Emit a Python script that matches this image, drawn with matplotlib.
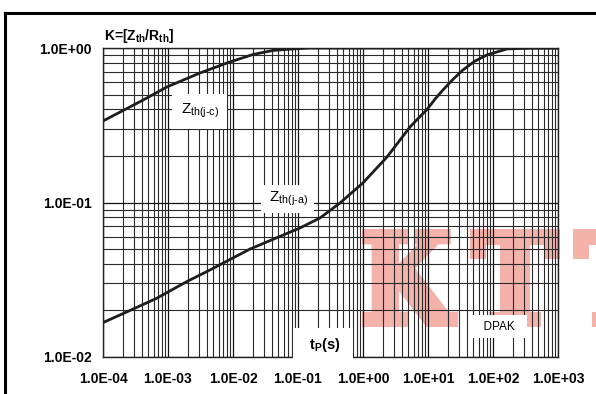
import matplotlib
matplotlib.use("Agg")
import matplotlib.pyplot as plt
from matplotlib.textpath import TextPath
from matplotlib.patches import PathPatch
from matplotlib.font_manager import FontProperties
from matplotlib.transforms import Affine2D, IdentityTransform
from matplotlib.lines import Line2D
from matplotlib.ticker import LogLocator, NullFormatter

plt.rcParams["font.family"] = ["Liberation Sans", "DejaVu Sans"]
plt.rcParams["mathtext.fontset"] = "custom"
plt.rcParams["mathtext.rm"] = "Liberation Sans"
plt.rcParams["mathtext.bf"] = "Liberation Sans:bold"
plt.rcParams["mathtext.it"] = "Liberation Sans:italic"

# ---- du lieu: Zth(j-c) ----
t_jc = [1e-4, 4.12e-4, 9.66e-4, 3.10e-3, 8.09e-3, 2.03e-2, 4.12e-2, 8.37e-2, 0.153, 1e3]
k_jc = [0.337, 0.460, 0.560, 0.689, 0.800, 0.908, 0.964, 0.986, 1.0, 1.0]

# ---- du lieu: Zth(j-a) ----
t_ja = [1e-4, 2.6e-4, 6.7e-4, 1.93e-3, 4.43e-3, 1.83e-2, 0.107, 0.218, 0.443, 1.0,
        2.34, 5.28, 7.2, 9.66, 13.0, 17.0, 25.0, 34.5, 52.0, 80.9, 164, 372, 1e3]
k_ja = [0.0167, 0.0200, 0.0240, 0.0307, 0.0366, 0.0500, 0.0684, 0.0794, 0.0993, 0.134,
        0.197, 0.308, 0.353, 0.400, 0.470, 0.535, 0.635, 0.721, 0.820, 0.902, 0.986, 1.0, 1.0]

x_ticks = [1e-4, 1e-3, 1e-2, 1e-1, 1e0, 1e1, 1e2, 1e3]
x_labels = ["1.0E-04", "1.0E-03", "1.0E-02", "1.0E-01", "1.0E+00", "1.0E+01", "1.0E+02", "1.0E+03"]
y_ticks = [1e-2, 1e-1, 1e0]
y_labels = ["1.0E-02", "1.0E-01", "1.0E+00"]

W, H = 596, 394
fig = plt.figure(figsize=(W / 100, H / 100), dpi=100)
ax = fig.add_axes([103 / W, (H - 357) / H, (558 - 103) / W, (357 - 48) / H])
ax.set_facecolor("none")

ax.set_xscale("log")
ax.set_yscale("log")
ax.set_xlim(1e-4, 1e3)
ax.set_ylim(1e-2, 1e0)

# luoi chinh + luoi phu
ax.xaxis.set_minor_locator(LogLocator(base=10, subs=range(2, 10), numticks=50))
ax.yaxis.set_minor_locator(LogLocator(base=10, subs=range(2, 10), numticks=50))
ax.xaxis.set_minor_formatter(NullFormatter())
ax.yaxis.set_minor_formatter(NullFormatter())
ax.grid(which="major", color="#111111", lw=0.9)
ax.grid(which="minor", color="#2a2a2a", lw=0.8)
ax.set_axisbelow("line")

ax.set_xticks(x_ticks)
ax.set_xticklabels(x_labels)
ax.set_yticks(y_ticks)
ax.set_yticklabels(y_labels)
ax.tick_params(which="both", length=0)
ax.tick_params(axis="x", pad=11, labelsize=10)
ax.tick_params(axis="y", pad=8, labelsize=10)
for lb in ax.get_xticklabels() + ax.get_yticklabels():
    lb.set_fontweight("bold")
for s in ax.spines.values():
    s.set_color("#222222")
    s.set_linewidth(1.0)

# duong cong
ax.plot(t_jc, k_jc, color="#1e1e1e", lw=2.0, zorder=3)
ax.plot(t_ja, k_ja, color="#1e1e1e", lw=2.0, zorder=3)

# nhan
ax.text(3.1e-3, 0.39, r"Z$_\mathrm{th(j\text{-}c)}$", fontsize=11, ha="center", va="center",
        bbox=dict(boxstyle="square,pad=0.55", fc="white", ec="none"), zorder=4)
ax.text(6.8e-2, 0.105, r" Z$_\mathrm{th(j\text{-}a)}$ ", fontsize=11, ha="center", va="center",
        bbox=dict(boxstyle="square,pad=0.3", fc="white", ec="none"), zorder=4)
ax.text(0.243, 0.0120, r"  t$_\mathbf{P}$(s)  ", fontsize=10.5, fontweight="bold",
        ha="center", va="center",
        bbox=dict(boxstyle="square,pad=0.55", fc="white", ec="none"), zorder=4)
ax.text(124, 0.0157, "  DPAK  ", fontsize=8.5, ha="center", va="center",
        bbox=dict(boxstyle="square,pad=0.45", fc="white", ec="none"), zorder=4)
ax.annotate(r"K=[Z$_\mathbf{th}$/R$_\mathbf{th}$]", xy=(0, 1), xycoords="axes fraction",
            xytext=(1, 6), textcoords="offset points", fontsize=10, fontweight="bold",
            ha="left", va="baseline", annotation_clip=False)

# chu chim "KTT" mau hong nam duoi luoi (net day nho vien cung mau)
fp = FontProperties(family="DejaVu Serif", weight="bold")
letters = [("K", 362, 458), ("T", 470, 560), ("T", 573, 663)]
top, bottom = H - 229, H - 327
grow = 4  # px, nua do day vien
for ch, x0, x1 in letters:
    tp = TextPath((0, 0), ch, size=1, prop=fp)
    ext = tp.get_extents()
    tr = (Affine2D().translate(-ext.x0, -ext.y0)
          .scale((x1 - x0 - 2 * grow) / ext.width, (top - bottom - 2 * grow) / ext.height)
          .translate(x0 + grow, bottom + grow))
    p = PathPatch(tr.transform_path(tp), fc="#f4b2aa", ec="#f4b2aa",
                  lw=2 * grow * 0.72, joinstyle="miter", zorder=-1)
    fig.add_artist(p)
    p.set_transform(IdentityTransform())

# khung ngoai
fig.add_artist(Line2D([5 / W, 5 / W], [0, (H - 13) / H], color="black", lw=2.2,
                      transform=fig.transFigure, solid_capstyle="projecting"))
fig.add_artist(Line2D([5 / W, 1], [(H - 13) / H, (H - 13) / H], color="black", lw=2.2,
                      transform=fig.transFigure, solid_capstyle="projecting"))

fig.savefig("out.png", dpi=100, facecolor="white")
